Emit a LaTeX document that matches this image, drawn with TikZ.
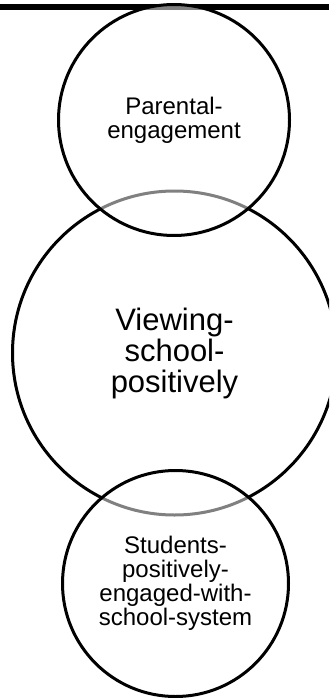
\documentclass[tikz,border=0pt]{standalone}
\usepackage{fontspec}
\setmainfont{Liberation Sans}
\usepackage{tikz}
\usetikzlibrary{positioning}

\begin{document}
\begin{tikzpicture}[x=1pt,y=-1pt,
    ring/.style={draw,circle,line width=3pt,fill=white,fill opacity=0.5,text opacity=1,inner sep=0pt,align=center},
    smalltext/.style={font=\fontsize{24}{24}\selectfont},
    bigtext/.style={font=\fontsize{31}{31}\selectfont}]
  \clip (0,0) rectangle (329,698);
  \fill[black] (0,4) rectangle (329,10);
  % middle circle first, the others lie over it
  \node[ring,bigtext,minimum size=324pt] (viewing) at (174.5,353) {Viewing-\\school-\\positively};
  \node[ring,smalltext,minimum size=231pt] (parental) at (174,120) {Parental-\\engagement};
  \node[ring,smalltext,minimum size=226pt] (students) at (175.5,583.5) {Students-\\positively-\\engaged-with-\\school-system};
\end{tikzpicture}
\end{document}
